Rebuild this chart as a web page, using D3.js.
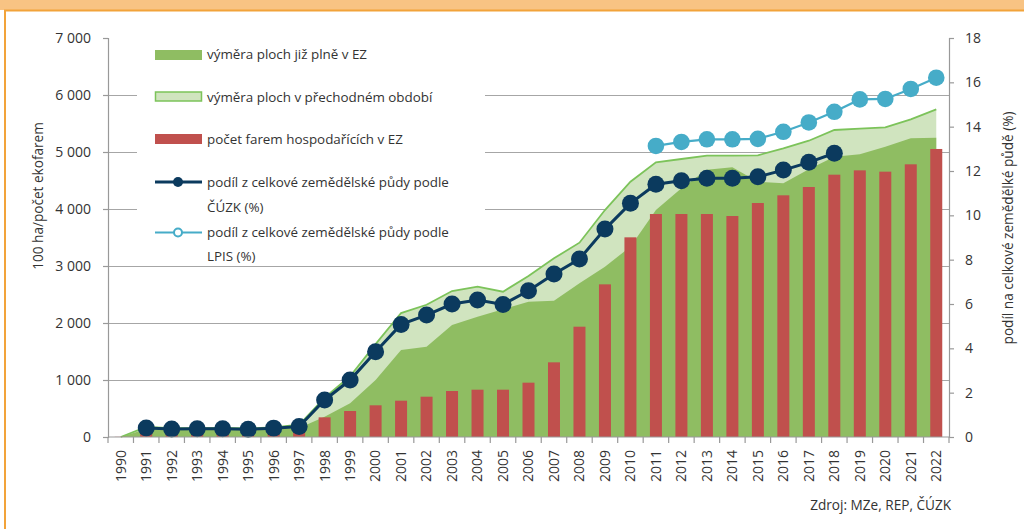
<!DOCTYPE html>
<html>
<head>
<meta charset="utf-8">
<script src="https://cdn.jsdelivr.net/npm/d3@7"></script>
<style>
  body { margin: 0; background: #fff; }
  svg text { font-family: "Open Sans", sans-serif; fill: #333; }
</style>
</head>
<body>
<div id="chart"></div>
<script>
// data
var years = d3.range(1990, 2023).map(String);
// výměra ploch celkem (100 ha) - horní okraj světle zelené plochy
var areaTotal = [0, 175, 154, 157, 158, 150, 170, 215, 690, 1065, 1630, 2175, 2320, 2560, 2637, 2549, 2824, 3135, 3409, 3982, 4479, 4820, 4877, 4935, 4935, 4942, 5064, 5198, 5386, 5409, 5433, 5573, 5749];
// výměra ploch již plně v EZ (100 ha)
var areaFull = [0, 140, 140, 140, 140, 140, 150, 160, 357, 591, 1000, 1526, 1584, 1965, 2111, 2240, 2374, 2392, 2696, 2988, 3339, 3982, 4363, 4690, 4731, 4479, 4450, 4696, 4918, 4959, 5093, 5240, 5251];
// počet farem hospodařících v EZ
var farms = [3, 132, 135, 141, 187, 181, 182, 211, 345, 456, 556, 637, 707, 807, 830, 830, 953, 1310, 1935, 2678, 3503, 3912, 3912, 3912, 3877, 4105, 4240, 4386, 4602, 4678, 4655, 4784, 5053];
// podíl ČÚZK (%)
var shareCuzk = [null, 0.41, 0.36, 0.37, 0.37, 0.35, 0.40, 0.47, 1.67, 2.57, 3.85, 5.08, 5.50, 6.00, 6.18, 5.98, 6.60, 7.35, 8.03, 9.38, 10.54, 11.40, 11.56, 11.67, 11.67, 11.74, 12.04, 12.39, 12.80, null, null, null, null];
// podíl LPIS (%)
var shareLpis = [null, null, null, null, null, null, null, null, null, null, null, null, null, null, null, null, null, null, null, null, null, 13.13, 13.31, 13.43, 13.43, 13.45, 13.77, 14.19, 14.67, 15.23, 15.25, 15.70, 16.21];

var leftTicks = [0, 1000, 2000, 3000, 4000, 5000, 6000, 7000];
var rightTicks = [0, 2, 4, 6, 8, 10, 12, 14, 16, 18];

var W = 1024, H = 529;
var margin = {top: 38, left: 108, right: 75, bottom: 92};
var width = W - margin.left - margin.right,
    height = H - margin.top - margin.bottom;

var svg = d3.select("#chart").append("svg")
  .attr("width", W)
  .attr("height", H);

// orange frame
svg.append("rect").attr("x", 0).attr("y", 0).attr("width", W).attr("height", 10).attr("fill", "#f8c383");
svg.append("line").attr("x1", 4).attr("x2", W).attr("y1", 10.5).attr("y2", 10.5).attr("stroke", "#f2a33a").attr("stroke-width", 2);
svg.append("line").attr("x1", 5).attr("x2", 5).attr("y1", 10).attr("y2", H).attr("stroke", "#f2a33a").attr("stroke-width", 2);

var g = svg.append("g")
  .attr("transform", "translate(" + margin.left + "," + margin.top + ")");

var x = d3.scaleBand().domain(years).range([0, width]);
var y = d3.scaleLinear().domain([0, 7000]).range([height, 0]);
var y2 = d3.scaleLinear().domain([0, 18]).range([height, 0]);
var cx = function(i) { return x(years[i]) + x.bandwidth() / 2; };

// gridlines
g.append("g").selectAll("line")
  .data(leftTicks.filter(function(d) { return d > 0 && d < 7000; }))
  .enter().append("line")
  .attr("x1", 0).attr("x2", width)
  .attr("y1", function(d) { return Math.round(y(d)) + 0.5; })
  .attr("y2", function(d) { return Math.round(y(d)) + 0.5; })
  .attr("stroke", "#a6a6a6").attr("stroke-width", 1.2);

// areas
var areaT = d3.area()
  .x(function(d, i) { return cx(i); })
  .y0(height)
  .y1(function(d) { return y(d); });
g.append("path").attr("d", areaT(areaTotal)).attr("fill", "#d0e4bf");
g.append("path").attr("d", areaT(areaFull)).attr("fill", "#8fbd62");
g.append("path")
  .attr("d", d3.line().x(function(d, i) { return cx(i); }).y(function(d) { return y(d); })(areaTotal))
  .attr("fill", "none").attr("stroke", "#7cc35a").attr("stroke-width", 1.8);

// bars
var bw = 12;
g.append("g").selectAll("rect")
  .data(farms)
  .enter().append("rect")
  .attr("x", function(d, i) { return cx(i) - bw / 2; })
  .attr("y", function(d) { return y(d); })
  .attr("width", bw)
  .attr("height", function(d) { return height - y(d); })
  .attr("fill", "#c0504d");

// lines
function drawSeries(data, color, lw, r) {
  var pts = data.map(function(d, i) { return {i: i, v: d}; }).filter(function(p) { return p.v !== null; });
  g.append("path")
    .attr("d", d3.line().x(function(p) { return cx(p.i); }).y(function(p) { return y2(p.v); })(pts))
    .attr("fill", "none").attr("stroke", color).attr("stroke-width", lw);
  g.append("g").selectAll("circle")
    .data(pts).enter().append("circle")
    .attr("cx", function(p) { return cx(p.i); })
    .attr("cy", function(p) { return y2(p.v); })
    .attr("r", r)
    .attr("fill", color);
}
drawSeries(shareLpis, "#46acc8", 2.2, 8.3);
drawSeries(shareCuzk, "#0b3a5e", 3, 8.5);

// axes
var axisColor = "#999";
var gl = g.append("g")
  .call(d3.axisLeft(y).tickValues(leftTicks).tickSize(5).tickPadding(12)
    .tickFormat(function(d) { return d3.format(",")(d).replace(",", " "); }));
var gr = g.append("g").attr("transform", "translate(" + width + ",0)")
  .call(d3.axisRight(y2).tickValues(rightTicks).tickSize(5).tickPadding(11));
var gx = g.append("g").attr("transform", "translate(0," + height + ")")
  .call(d3.axisBottom(x).tickSize(0).tickPadding(0));
[gl, gr, gx].forEach(function(a) {
  a.select(".domain").attr("stroke", axisColor).attr("stroke-width", 1.2);
  a.selectAll(".tick line").attr("stroke", axisColor).attr("stroke-width", 1.2);
  a.selectAll("text").attr("font-size", 14).attr("fill", "#333");
});
gx.select(".domain").attr("d", "M0,0H" + width);
gx.selectAll(".tick text")
  .attr("transform", "rotate(-90)")
  .attr("text-anchor", "end")
  .attr("x", -13).attr("y", 0).attr("dy", "0.35em");
// x ticks at band borders
gx.append("g").selectAll("line")
  .data(years.concat(["end"]))
  .enter().append("line")
  .attr("x1", function(d, i) { return i * x.step(); })
  .attr("x2", function(d, i) { return i * x.step(); })
  .attr("y1", 0).attr("y2", 6)
  .attr("stroke", axisColor).attr("stroke-width", 1.2);

// axis titles
svg.append("text")
  .attr("transform", "translate(38,196) rotate(-90)")
  .attr("text-anchor", "middle").attr("dy", "0.35em")
  .attr("font-size", 13.6)
  .text("100 ha/počet ekofarem");
svg.append("text")
  .attr("transform", "translate(1008,228) rotate(-90)")
  .attr("text-anchor", "middle").attr("dy", "0.35em")
  .attr("font-size", 13.6)
  .text("podíl na celkové zemědělké půdě (%)");

svg.append("text")
  .attr("x", 951).attr("y", 505).attr("dy", "0.35em")
  .attr("text-anchor", "end").attr("font-size", 13.6)
  .text("Zdroj: MZe, REP, ČÚZK");

// legend
var leg = svg.append("g");
leg.append("rect").attr("x", 137).attr("y", 40).attr("width", 348).attr("height", 224).attr("fill", "#fff");
var lx = 155, tx = 207;
leg.append("rect").attr("x", lx).attr("y", 50).attr("width", 47).attr("height", 10).attr("fill", "#8fbd62");
leg.append("rect").attr("x", lx + 0.5).attr("y", 92).attr("width", 46).attr("height", 9).attr("fill", "#d0e4bf").attr("stroke", "#7cc35a").attr("stroke-width", 1.5);
leg.append("rect").attr("x", lx).attr("y", 134).attr("width", 47).attr("height", 10).attr("fill", "#c0504d");
leg.append("line").attr("x1", lx).attr("x2", lx + 47).attr("y1", 182).attr("y2", 182).attr("stroke", "#0b3a5e").attr("stroke-width", 3);
leg.append("circle").attr("cx", lx + 23).attr("cy", 182).attr("r", 5).attr("fill", "#0b3a5e");
leg.append("line").attr("x1", lx).attr("x2", lx + 47).attr("y1", 232.5).attr("y2", 232.5).attr("stroke", "#46acc8").attr("stroke-width", 2);
leg.append("circle").attr("cx", lx + 23).attr("cy", 232.5).attr("r", 4).attr("fill", "#fff").attr("stroke", "#46acc8").attr("stroke-width", 2);

var legTexts = [
  ["výměra ploch již plně v EZ", 54],
  ["výměra ploch v přechodném období", 97],
  ["počet farem hospodařících v EZ", 139],
  ["podíl z celkové zemědělské půdy podle", 182],
  ["ČÚZK (%)", 207],
  ["podíl z celkové zemědělské půdy podle", 232],
  ["LPIS (%)", 256]
];
leg.selectAll("text.l").data(legTexts).enter().append("text")
  .attr("class", "l")
  .attr("x", tx).attr("y", function(d) { return d[1]; })
  .attr("dy", "0.35em").attr("font-size", 13.4)
  .text(function(d) { return d[0]; });
</script>
</body>
</html>
